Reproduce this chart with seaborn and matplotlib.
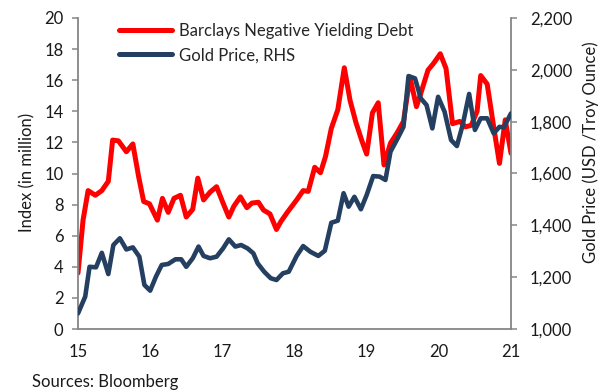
import matplotlib
matplotlib.use("Agg")
import matplotlib.pyplot as plt
import seaborn as sns
import pandas as pd

# Barclays negative yielding debt index (left axis)
debt_x = [15.00, 15.07, 15.14, 15.24, 15.33, 15.42, 15.48, 15.56, 15.67, 15.76,
          15.84, 15.91, 15.99, 16.10, 16.17, 16.25, 16.33, 16.42, 16.50, 16.59,
          16.66, 16.74, 16.83, 16.92, 17.01, 17.09, 17.16, 17.25, 17.34, 17.41,
          17.50, 17.57, 17.66, 17.75, 17.81, 17.90, 18.03, 18.12, 18.19, 18.28,
          18.36, 18.43, 18.51, 18.60, 18.69, 18.77, 18.85, 18.93, 19.00, 19.08,
          19.16, 19.24, 19.33, 19.42, 19.51, 19.60, 19.69, 19.76, 19.85, 19.93,
          20.02, 20.10, 20.19, 20.29, 20.37, 20.45, 20.53, 20.58, 20.67, 20.76,
          20.84, 20.92, 21.00]
debt_y = [3.6, 7.0, 8.9, 8.6, 8.9, 9.5, 12.15, 12.1, 11.4, 11.9,
          9.8, 8.2, 8.05, 7.0, 8.4, 7.5, 8.4, 8.6, 7.2, 7.7,
          9.7, 8.3, 8.8, 9.15, 8.1, 7.2, 7.9, 8.5, 7.8, 8.1,
          8.15, 7.65, 7.4, 6.4, 6.9, 7.5, 8.3, 8.9, 8.85, 10.4,
          10.05, 11.1, 12.9, 14.1, 16.8, 14.7, 13.3, 12.15, 11.25, 13.9,
          14.55, 10.55, 11.95, 12.6, 13.35, 16.2, 14.3, 15.3, 16.65, 17.1,
          17.7, 16.75, 13.2, 13.35, 13.0, 13.1, 14.0, 16.3, 15.75, 13.0,
          10.65, 13.45, 11.3]

# Gold price in USD per troy ounce (right axis)
gold_x = [15.00, 15.10, 15.16, 15.25, 15.33, 15.42, 15.49, 15.58, 15.67, 15.76,
          15.85, 15.92, 16.00, 16.08, 16.16, 16.25, 16.35, 16.43, 16.50, 16.59,
          16.67, 16.74, 16.83, 16.92, 17.01, 17.09, 17.18, 17.26, 17.35, 17.43,
          17.49, 17.58, 17.67, 17.75, 17.84, 17.92, 18.03, 18.12, 18.22, 18.33,
          18.42, 18.51, 18.60, 18.68, 18.75, 18.83, 18.92, 19.00, 19.09, 19.18,
          19.26, 19.33, 19.43, 19.51, 19.58, 19.67, 19.75, 19.83, 19.91, 19.99,
          20.08, 20.17, 20.25, 20.33, 20.42, 20.50, 20.58, 20.67, 20.76, 20.84,
          20.90, 21.00]
gold_y = [1060, 1125, 1240, 1238, 1294, 1212, 1324, 1350, 1307, 1315,
          1279, 1170, 1148, 1202, 1247, 1251, 1269, 1269, 1240, 1273,
          1318, 1282, 1273, 1279, 1311, 1346, 1318, 1324, 1311, 1292,
          1253, 1221, 1196, 1189, 1215, 1221, 1282, 1320, 1298, 1282,
          1302, 1410, 1418, 1524, 1472, 1510, 1462, 1517, 1590, 1588,
          1575, 1684, 1736, 1780, 1976, 1967, 1890, 1864, 1774, 1896,
          1838, 1729, 1706, 1787, 1907, 1768, 1813, 1813, 1755, 1780,
          1778, 1832]

x_ticks = [15, 16, 17, 18, 19, 20, 21]
left_ticks = [0, 2, 4, 6, 8, 10, 12, 14, 16, 18, 20]
right_ticks = [1000, 1200, 1400, 1600, 1800, 2000, 2200]

debt_label = "Barclays Negative Yielding Debt"
gold_label = "Gold Price, RHS"

debt_df = pd.DataFrame({"year": debt_x, "value": debt_y})
gold_df = pd.DataFrame({"year": gold_x, "value": gold_y})

sns.set_style("white")
plt.rcParams["font.family"] = ["Lato", "DejaVu Sans"]
FS = 12

RED = "#FF0000"
NAVY = "#243F60"
GREY = "#868686"
TEXT = "#1a1a1a"

W, H = 598, 392
fig = plt.figure(figsize=(W / 100, H / 100), dpi=100)
ax = fig.add_axes([78 / W, (H - 329) / H, (511 - 78) / W, (329 - 18) / H])
ax2 = ax.twinx()

sns.lineplot(data=debt_df, x="year", y="value", ax=ax, color=RED,
             linewidth=3.6, label=debt_label, legend=False, zorder=2,
             solid_joinstyle="round", solid_capstyle="round")
sns.lineplot(data=gold_df, x="year", y="value", ax=ax2, color=NAVY,
             linewidth=3.3, label=gold_label, legend=False, zorder=3,
             solid_joinstyle="round", solid_capstyle="round")

ax.set_xlim(15, 21)
ax.set_ylim(0, 20)
ax2.set_ylim(1000, 2200)
ax.set_xticks(x_ticks)
ax.set_xticklabels([str(t) for t in x_ticks])
ax.set_yticks(left_ticks)
ax.set_yticklabels([str(t) for t in left_ticks])
ax2.set_yticks(right_ticks)
ax2.set_yticklabels([f"{t:,}" for t in right_ticks])

for a in (ax, ax2):
    for side in ("left", "right", "bottom", "top"):
        a.spines[side].set_color(GREY)
        a.spines[side].set_linewidth(1.3)
    a.spines["top"].set_visible(False)
    a.tick_params(colors=GREY, labelcolor=TEXT, length=4.5, width=1.1,
                  direction="out", labelsize=FS)
ax.spines["right"].set_visible(False)
ax2.spines["left"].set_visible(False)
ax2.spines["bottom"].set_visible(False)
ax.tick_params(axis="x", pad=6)
ax.tick_params(axis="y", pad=6)
ax2.tick_params(axis="y", pad=9)

ax.set_xlabel("")
ax.set_ylabel("")
ax2.set_ylabel("")
fig.text(27 / W, 1 - 172 / H, "Index (in million)", fontsize=FS, color=TEXT,
         rotation=90, ha="center", va="center")
fig.text(591 / W, 1 - 152 / H, "Gold Price (USD /Troy Ounce)", fontsize=FS,
         color=TEXT, rotation=90, ha="center", va="center")

# Combined legend for both axes
h1, l1 = ax.get_legend_handles_labels()
h2, l2 = ax2.get_legend_handles_labels()
leg = ax2.legend(h1 + h2, l1 + l2, loc="upper left",
                 bbox_to_anchor=(119 / W, 1 - 23 / H),
                 bbox_transform=fig.transFigure, frameon=False,
                 borderpad=0, borderaxespad=0,
                 handlelength=3.2, handletextpad=0.4, labelspacing=0.5,
                 fontsize=FS)
for line in leg.get_lines():
    line.set_linewidth(3.6)
    line.set_solid_capstyle("round")

fig.text(32 / W, 1 - 382 / H, "Sources: Bloomberg", fontsize=FS, color=TEXT,
         ha="left", va="center")

fig.savefig("out.png", dpi=100)
